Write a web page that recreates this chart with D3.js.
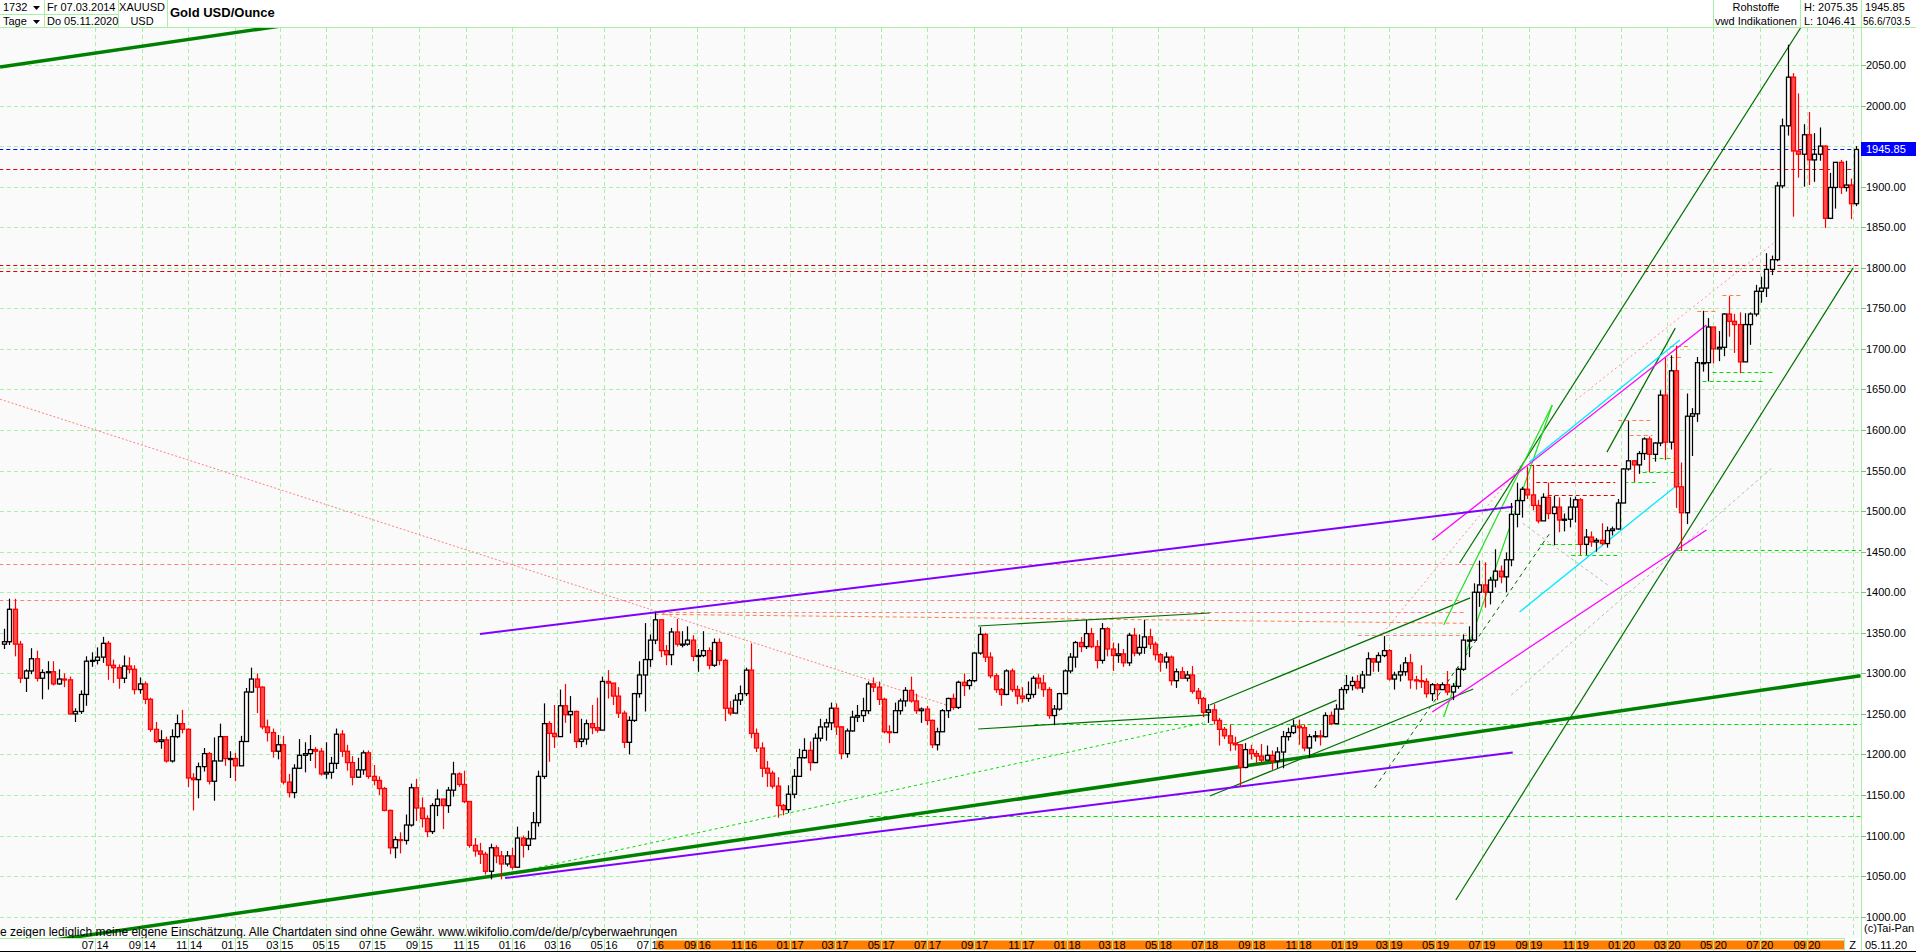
<!DOCTYPE html>
<html><head><meta charset="utf-8">
<script src="https://cdn.jsdelivr.net/npm/d3@7"></script>
<style>html,body{margin:0;padding:0;background:#fff;overflow:hidden}svg{display:block;font-family:"Liberation Sans",Arial,sans-serif}</style>
</head><body><svg id="c" width="1916" height="952"></svg>
<script>
// ---------------- DATA (weekly bars, Friday closes; last bar 05.11.2020) ----------------
const firstWeek = "2014-03-07", lastWeek = "2020-10-30", lastDay = "2020-11-05";
const close2014 = [1339,1379,1336,1294,1303,1318,1294,1301,1302,1287,1293,1292,1250,1253,1274,1315,1316,1320,1337,1310,1307,1294,1309,1305,1280,1287,1268,1231,1216,1218,1192,1222,1238,1231,1171,1169,1185,1201,1167,1192,1222,1195,1195];
const high2014  = [1355,1392,1392,1340,1305,1331,1328,1305,1315,1315,1305,1300,1296,1257,1279,1321,1326,1332,1345,1340,1317,1311,1322,1320,1310,1295,1290,1270,1240,1230,1222,1231,1249,1255,1232,1177,1190,1208,1203,1221,1238,1222,1204];
const low2014   = [1330,1335,1321,1288,1277,1299,1290,1268,1280,1285,1286,1283,1249,1240,1250,1260,1308,1311,1313,1292,1288,1281,1288,1300,1274,1275,1262,1228,1214,1207,1190,1190,1220,1226,1160,1131,1146,1179,1163,1143,1192,1186,1171];
const close2015 = [1186,1216,1277,1293,1283,1234,1227,1204,1212,1166,1153,1183,1199,1201,1206,1204,1176,1178,1189,1225,1204,1190,1172,1181,1202,1173,1168,1158,1131,1085,1095,1094,1113,1159,1134,1121,1105,1137,1145,1137,1156,1176,1163,1142,1088,1081,1077,1056,1085,1075,1065,1075];
const high2015  = [1202,1223,1282,1307,1300,1284,1243,1232,1224,1223,1176,1188,1219,1215,1224,1209,1208,1215,1197,1232,1230,1212,1198,1196,1205,1205,1187,1173,1160,1132,1099,1104,1126,1164,1170,1147,1125,1140,1157,1140,1160,1191,1178,1180,1142,1097,1091,1080,1090,1088,1081,1081];
const low2015   = [1167,1188,1216,1276,1251,1231,1216,1196,1194,1163,1147,1146,1182,1178,1192,1183,1174,1170,1170,1182,1197,1180,1162,1171,1175,1170,1162,1150,1130,1077,1072,1078,1089,1111,1118,1110,1098,1102,1124,1108,1128,1148,1160,1140,1085,1074,1065,1052,1046,1066,1046,1062];
const close2016 = [1061,1097,1088,1096,1116,1173,1238,1226,1222,1260,1249,1253,1216,1219,1238,1233,1230,1290,1288,1272,1251,1215,1242,1275,1298,1317,1341,1366,1328,1323,1351,1336,1336,1341,1321,1322,1328,1310,1338,1316,1257,1251,1267,1275,1304,1226,1208,1183,1177,1161,1137,1132,1151];
const high2016  = [1085,1111,1100,1106,1129,1180,1263,1241,1261,1280,1287,1272,1254,1244,1243,1261,1270,1296,1304,1278,1283,1254,1247,1276,1315,1362,1348,1375,1366,1335,1356,1367,1352,1358,1347,1330,1352,1332,1343,1343,1318,1266,1274,1285,1307,1337,1232,1215,1192,1180,1172,1139,1162];
const low2016   = [1058,1061,1073,1082,1096,1111,1170,1191,1208,1226,1239,1226,1208,1209,1212,1225,1227,1231,1269,1261,1245,1208,1200,1240,1270,1253,1308,1336,1320,1310,1310,1333,1332,1334,1315,1302,1320,1305,1308,1310,1241,1248,1251,1261,1272,1220,1203,1172,1160,1158,1122,1125,1128];
const close2017 = [1173,1196,1205,1190,1220,1234,1239,1257,1234,1201,1229,1246,1248,1254,1287,1283,1268,1228,1227,1254,1266,1279,1266,1254,1256,1242,1212,1228,1254,1269,1258,1289,1285,1291,1325,1348,1320,1297,1280,1274,1303,1280,1272,1269,1274,1294,1288,1280,1248,1256,1275,1303];
const high2017  = [1182,1207,1220,1216,1226,1244,1244,1264,1263,1235,1232,1254,1261,1270,1290,1295,1290,1270,1236,1264,1269,1283,1296,1275,1258,1260,1243,1233,1256,1270,1275,1291,1300,1293,1326,1357,1350,1326,1300,1282,1305,1306,1285,1283,1290,1297,1299,1298,1283,1261,1276,1305];
const low2017   = [1146,1173,1195,1180,1190,1216,1217,1230,1224,1194,1196,1228,1240,1240,1250,1277,1261,1226,1214,1227,1249,1259,1264,1250,1239,1236,1208,1205,1231,1245,1255,1256,1272,1280,1289,1323,1314,1294,1276,1260,1273,1277,1262,1264,1265,1270,1281,1271,1244,1236,1254,1274];
const close2018 = [1320,1338,1333,1349,1333,1316,1355,1330,1322,1324,1313,1347,1325,1332,1345,1336,1323,1314,1320,1291,1302,1294,1298,1278,1269,1252,1255,1242,1231,1223,1214,1212,1184,1206,1201,1198,1193,1199,1192,1203,1222,1227,1235,1233,1208,1222,1223,1222,1248,1238,1256,1280];
const high2018  = [1325,1340,1345,1366,1356,1341,1362,1357,1338,1337,1330,1350,1356,1348,1366,1355,1339,1325,1326,1322,1306,1308,1303,1309,1282,1271,1262,1262,1245,1234,1237,1222,1212,1214,1212,1205,1213,1211,1205,1209,1229,1233,1243,1243,1237,1225,1229,1230,1252,1253,1262,1283];
const low2018   = [1300,1307,1326,1330,1331,1306,1312,1321,1303,1313,1308,1309,1321,1322,1324,1330,1316,1302,1306,1285,1282,1293,1290,1275,1262,1246,1239,1237,1211,1219,1204,1205,1160,1183,1194,1189,1190,1193,1181,1183,1183,1217,1225,1212,1204,1196,1216,1211,1221,1236,1238,1255];
const close2019 = [1285,1290,1282,1298,1318,1314,1322,1328,1293,1298,1302,1313,1292,1291,1290,1275,1286,1280,1286,1277,1284,1305,1341,1341,1400,1409,1400,1415,1426,1419,1440,1496,1513,1527,1520,1507,1488,1517,1497,1505,1489,1490,1505,1514,1459,1468,1462,1464,1460,1476,1478,1510];
const high2019  = [1298,1296,1298,1303,1326,1319,1326,1346,1330,1302,1311,1320,1324,1297,1310,1294,1288,1288,1289,1303,1288,1307,1348,1358,1411,1439,1437,1419,1453,1433,1449,1510,1535,1530,1555,1557,1514,1522,1535,1519,1517,1497,1517,1518,1516,1478,1475,1467,1485,1481,1481,1515];
const low2019   = [1275,1279,1280,1276,1298,1302,1302,1320,1291,1280,1290,1297,1281,1280,1282,1270,1266,1267,1280,1273,1267,1281,1303,1320,1340,1382,1381,1385,1406,1411,1400,1432,1480,1492,1515,1501,1485,1491,1490,1458,1474,1475,1480,1486,1446,1446,1456,1450,1458,1455,1470,1477];
const close2020 = [1552,1562,1557,1571,1589,1570,1584,1643,1585,1673,1530,1498,1617,1620,1683,1683,1727,1700,1702,1743,1734,1730,1684,1730,1743,1771,1775,1798,1810,1901,1975,2035,1944,1940,1964,1933,1940,1950,1861,1899,1930,1899,1902,1879,1945.85];
const high2020  = [1553,1611,1563,1574,1591,1592,1585,1649,1689,1692,1704,1560,1645,1627,1690,1747,1738,1723,1722,1744,1765,1743,1745,1744,1745,1779,1789,1818,1815,1906,1984,2075,2040,2015,1977,1992,1966,1973,1951,1917,1930,1933,1932,1910,1950];
const low2020   = [1515,1550,1536,1546,1563,1548,1561,1580,1563,1576,1504,1451,1484,1568,1610,1672,1660,1682,1685,1691,1715,1695,1670,1684,1705,1740,1757,1764,1791,1808,1898,1963,1863,1911,1900,1902,1906,1932,1849,1860,1873,1891,1894,1860,1876];
const firstOpen = 1336;
const lastPrice = 1945.85;

const priceTicks = [1000,1050,1100,1150,1200,1250,1300,1350,1400,1450,1500,1550,1600,1650,1700,1750,1800,1850,1900,1950,2000,2050];
const monthTicks = ["2014-07-01","2014-09-01","2014-11-01","2015-01-01","2015-03-01","2015-05-01","2015-07-01","2015-09-01","2015-11-01",
"2016-01-01","2016-03-01","2016-05-01","2016-07-01","2016-09-01","2016-11-01","2017-01-01","2017-03-01","2017-05-01","2017-07-01","2017-09-01","2017-11-01",
"2018-01-01","2018-03-01","2018-05-01","2018-07-01","2018-09-01","2018-11-01","2019-01-01","2019-03-01","2019-05-01","2019-07-01","2019-09-01","2019-11-01",
"2020-01-01","2020-03-01","2020-05-01","2020-07-01","2020-09-01","2020-11-01"];

// trend lines: [date, price] endpoints
const thickGreenLow = [["2014-03-02",961.4],["2020-11-11",1297]];
const thickGreenTop = [["2014-03-02",2047.5],["2020-11-11",2383]];
const purpleLow = [["2015-12-23",1047.7],["2019-08-11",1202.4]];
const purpleHigh = [["2015-11-20",1348.6],["2019-08-11",1505.5]];
const redDiagonal = [["2014-03-02",1638],["2017-07-26",1261]];
const limeDiagonal = [["2015-12-21",1051.4],["2018-06-29",1238.8]];
const triangleTop = [["2017-09-06",1358.4],["2018-07-08",1374.4]];
const triangleBottom = [["2017-09-06",1231.4],["2018-07-08",1248.7]];
const channelTop = [["2019-06-02",1436],["2020-08-24",2095.7]];
const channelBottom = [["2019-05-28",1020.6],["2020-11-01",1799.6]];
const magentaTop = [["2019-04-27",1464.5],["2020-04-22",1729.5]];
const magentaBottom = [["2019-04-27",1252.4],["2020-04-22",1476.8]];
const cyanBottom = [["2019-08-20",1375.7],["2020-03-18",1534.7]];
const cyanTop = [["2019-09-02",1560.6],["2020-03-18",1711]];
const rise18Top = [["2018-07-08",1261],["2019-06-16",1393]];
const rise18Bottom = [["2018-07-08",1148.8],["2019-06-20",1280.7]];
const rise18Mid = [["2018-08-07",1211.7],["2018-12-22",1267]];
const rise19Dashed = [["2019-02-10",1158.7],["2019-09-29",1473]];
const rise19Fast = [["2019-05-12",1246.2],["2019-10-02",1630.9]];
const rise19Fast2 = [["2019-05-12",1359.6],["2019-10-02",1630.9]];
const rise20Green = [["2019-12-13",1572.7],["2020-03-12",1725.6]];
const grayRise = [["2019-08-09",1273.3],["2020-07-19",1554.7]];
const grayFall = [["2019-08-24",1485],["2019-12-17",1406.9]];
const pinkRise19 = [["2019-02-21",1349.8],["2019-09-02",1569.2]];
const orangeSloped = [["2016-07-07",1372.8],["2019-06-12",1361.7]];
const pinkRise20 = [["2019-11-02",1637],["2020-07-19",1830]];

// horizontal levels: [price, fromDate, toDate]
const levelsRedFull = [[1922,"2014-03-01","2020-11-12"],[1803.6,"2014-03-01","2020-11-12"],[1796,"2014-03-01","2020-11-12"]];
const levelsSalmon = [[1434.5,"2014-03-01","2019-07-13"],[1391,"2014-03-01","2019-06-02"],[1376,"2016-07-07","2019-06-09"],[1347,"2019-01-19","2019-06-13"]];
const levelsRedShort = [[1557,"2019-09-02","2019-12-28"],[1535.6,"2019-09-11","2019-12-24"],[1520,"2019-09-26","2019-12-24"]];
const levelsOrangeShort = [[1612,"2019-12-28","2020-02-11"],[1594,"2020-01-12","2020-02-11"],[1767,"2020-05-13","2020-06-09"],[1746.7,"2020-04-10","2020-05-06"],[1703.6,"2020-03-05","2020-03-29"],[1689.7,"2020-03-05","2020-03-22"]];
const levelsLime = [[1124,"2017-04-16","2020-11-12"],[1238,"2017-11-19","2020-11-12"],[1452,"2020-03-14","2020-11-12"],
 [1565,"2020-02-11","2020-03-14"],[1548,"2020-01-29","2020-03-14"],[1536,"2020-01-05","2020-02-15"],[1459,"2019-09-16","2019-11-05"],[1446,"2019-10-27","2019-12-28"],
 [1671,"2020-04-30","2020-07-18"],[1661,"2020-04-17","2020-07-08"]];

// ---------------- LAYOUT ----------------
const W = 1916, H = 952;
const plotL = 0, plotR = 1861, plotT = 28, plotB = 938;
const parse = d3.timeParse("%Y-%m-%d");
const x = d3.scaleTime().domain([parse("2014-03-07"), parse("2014-07-01"), parse("2020-11-05")]).range([4, 95, 1856]);
const y = d3.scaleLinear().domain([1000, 2050]).range([916.7, 65]);

const weekDates = d3.timeFriday.range(parse(firstWeek), d3.timeDay.offset(parse(lastWeek), 1)).concat([parse(lastDay)]);
const closes = [].concat(close2014, close2015, close2016, close2017, close2018, close2019, close2020);
const highs = [].concat(high2014, high2015, high2016, high2017, high2018, high2019, high2020);
const lows = [].concat(low2014, low2015, low2016, low2017, low2018, low2019, low2020);

const svg = d3.select("#c");
const gridColor = "#a8f0a8";

svg.append("rect").attr("x",0).attr("y",0).attr("width",W).attr("height",H).attr("fill","#fff");
svg.append("rect").attr("x",plotL).attr("y",plotT).attr("width",plotR-plotL).attr("height",plotB-plotT).attr("fill","#fafafa");
svg.append("defs").append("clipPath").attr("id","clip").append("rect")
  .attr("x",plotL).attr("y",plotT).attr("width",plotR-plotL).attr("height",plotB-plotT);

const plot = svg.append("g").attr("clip-path","url(#clip)");

// grid
plot.selectAll("line.hg").data(priceTicks).join("line")
  .attr("x1",plotL).attr("x2",plotR).attr("y1",d=>Math.round(y(d))+0.5).attr("y2",d=>Math.round(y(d))+0.5)
  .attr("stroke",gridColor).attr("stroke-dasharray","4,3");
plot.selectAll("line.vg").data(monthTicks).join("line")
  .attr("x1",d=>Math.round(x(parse(d)))+0.5).attr("x2",d=>Math.round(x(parse(d)))+0.5).attr("y1",plotT).attr("y2",plotB)
  .attr("stroke",gridColor).attr("stroke-dasharray","4,3");

function seg(pts, color, width, dash){
  const l = plot.append("line")
    .attr("x1",x(parse(pts[0][0]))).attr("y1",y(pts[0][1]))
    .attr("x2",x(parse(pts[1][0]))).attr("y2",y(pts[1][1]))
    .attr("stroke",color).attr("stroke-width",width);
  if(dash) l.attr("stroke-dasharray",dash);
}
function levels(arr, color, width, dash){
  arr.forEach(a=>{
    plot.append("line").attr("x1",x(parse(a[1]))).attr("x2",x(parse(a[2])))
      .attr("y1",Math.round(y(a[0]))+0.5).attr("y2",Math.round(y(a[0]))+0.5)
      .attr("stroke",color).attr("stroke-width",width).attr("stroke-dasharray",dash);
  });
}

levels(levelsSalmon, "#ff8080", 1, "4,3");
levels(levelsLime, "#00e000", 1, "4,3");
levels(levelsRedShort, "#e00000", 1, "4,3");
levels(levelsOrangeShort, "#ff8040", 1, "4,3");
levels(levelsRedFull, "#e00000", 1, "4,3");
levels([[lastPrice,"2014-03-01","2020-11-12"]], "#0000ff", 1, "4,3");

seg(redDiagonal, "#ff8080", 1, "2,2");
seg(pinkRise20, "#ff9090", 1, "2,3");
seg(pinkRise19, "#ff9090", 1, "2,3");
seg(grayRise, "#b8b8b8", 1, "3,3");
seg(grayFall, "#b8b8b8", 1, "3,3");
seg(orangeSloped, "#ff8040", 1, "4,3");
seg(limeDiagonal, "#00e000", 1, "3,3");
seg(rise19Dashed, "#006400", 1, "4,4");
seg(triangleTop, "#007000", 1.2);
seg(triangleBottom, "#007000", 1.2);
seg(rise18Top, "#007000", 1.2);
seg(rise18Bottom, "#007000", 1.2);
seg(rise18Mid, "#007000", 1.2);
seg(channelTop, "#007000", 1.2);
seg(channelBottom, "#007000", 1.2);
seg(rise20Green, "#007000", 1.2);
seg(rise19Fast, "#20e020", 1.2);
seg(rise19Fast2, "#20e020", 1.2);
seg(magentaTop, "#ff00ff", 1.3);
seg(magentaBottom, "#ff00ff", 1.3);
seg(cyanBottom, "#00e8ff", 1.3);
seg(cyanTop, "#00e8ff", 1.3);
seg(purpleLow, "#8000ff", 2);
seg(purpleHigh, "#8000ff", 2);
seg(thickGreenLow, "#008000", 3.5);
seg(thickGreenTop, "#008000", 3.5);

// candles
const candles = weekDates.map((d,i)=>({date:d, o: i===0?firstOpen:closes[i-1], c:closes[i], h:highs[i], l:lows[i]}));
const cw = 4;
const cg = plot.append("g");
cg.selectAll("line.w").data(candles).join("line")
  .attr("x1",d=>Math.round(x(d.date))+0.5).attr("x2",d=>Math.round(x(d.date))+0.5)
  .attr("y1",d=>y(d.h)).attr("y2",d=>y(d.l))
  .attr("stroke",d=>d.c>=d.o?"#000":"#f00").attr("stroke-width",1.2);
cg.selectAll("rect").data(candles).join("rect")
  .attr("x",d=>Math.round(x(d.date))+0.5-cw/2).attr("width",cw)
  .attr("y",d=>y(Math.max(d.o,d.c))).attr("height",d=>Math.max(1,Math.abs(y(d.o)-y(d.c))))
  .attr("fill",d=>d.c>=d.o?"#fff":"#ff5050").attr("stroke",d=>d.c>=d.o?"#000":"#f00").attr("stroke-width",1.3);

// disclaimer text inside plot
svg.append("text").attr("x",0).attr("y",936).attr("font-size",12).attr("fill","#000")
  .text("e zeigen lediglich meine eigene Einschätzung. Alle Chartdaten sind ohne Gewähr.  www.wikifolio.com/de/de/p/cyberwaehrungen");

// ---------------- RIGHT AXIS ----------------
svg.append("line").attr("x1",plotR+0.5).attr("x2",plotR+0.5).attr("y1",0).attr("y2",H).attr("stroke",gridColor);
const ax = svg.append("g");
ax.selectAll("line").data(priceTicks).join("line")
  .attr("x1",plotR).attr("x2",plotR+5).attr("y1",d=>Math.round(y(d))+0.5).attr("y2",d=>Math.round(y(d))+0.5).attr("stroke","#80c080");
ax.selectAll("text").data(priceTicks).join("text")
  .attr("x",plotR+5).attr("y",d=>y(d)+4).attr("font-size",11).attr("fill","#000")
  .text(d=>d3.format(".2f")(d));
svg.append("rect").attr("x",plotR).attr("y",Math.round(y(lastPrice))-7).attr("width",W-plotR).attr("height",14).attr("fill","#0000ff");
svg.append("text").attr("x",plotR+5).attr("y",y(lastPrice)+4).attr("font-size",11).attr("fill","#fff").text(d3.format(".2f")(lastPrice));
svg.append("text").attr("x",plotR+3).attr("y",932).attr("font-size",11).attr("fill","#000").text("(c)Tai-Pan");

// ---------------- BOTTOM AXIS ----------------
svg.append("line").attr("x1",0).attr("x2",W).attr("y1",plotB+0.5).attr("y2",plotB+0.5).attr("stroke",gridColor);
svg.append("rect").attr("x",x(parse("2016-07-09"))).attr("y",940.5).attr("width",1844-x(parse("2016-07-09"))).attr("height",9).attr("fill","#ff8000");
const bt = svg.append("g");
const mf = d3.timeFormat("%m"), yf = d3.timeFormat("%y");
const labTicks = monthTicks.slice(0, monthTicks.length-1);
bt.selectAll("line").data(monthTicks).join("line")
  .attr("x1",d=>Math.round(x(parse(d)))+0.5).attr("x2",d=>Math.round(x(parse(d)))+0.5).attr("y1",plotB).attr("y2",H-1).attr("stroke",gridColor);
bt.selectAll("text.m").data(labTicks).join("text").attr("class","m")
  .attr("x",d=>x(parse(d))-1).attr("y",949).attr("text-anchor","end").attr("font-size",11).text(d=>mf(parse(d)));
bt.selectAll("text.y").data(labTicks).join("text").attr("class","y")
  .attr("x",d=>x(parse(d))+1.5).attr("y",949).attr("font-size",11).text(d=>yf(parse(d)));
svg.append("rect").attr("x",1844).attr("y",plotB).attr("width",W-1844).attr("height",H-plotB-1).attr("fill","#fff");
svg.append("line").attr("x1",1844.5).attr("x2",1844.5).attr("y1",plotB).attr("y2",H).attr("stroke",gridColor);
svg.append("line").attr("x1",plotR+0.5).attr("x2",plotR+0.5).attr("y1",plotB).attr("y2",H).attr("stroke",gridColor);
svg.append("text").attr("x",1852.5).attr("y",949).attr("text-anchor","middle").attr("font-size",11).text("Z");
svg.append("text").attr("x",plotR+4).attr("y",949).attr("font-size",11).text("05.11.20");
svg.append("line").attr("x1",0).attr("x2",W).attr("y1",H-0.5).attr("y2",H-0.5).attr("stroke","#000");

// ---------------- HEADER ----------------
svg.append("rect").attr("x",0).attr("y",0).attr("width",W).attr("height",plotT).attr("fill","#fff");
svg.append("line").attr("x1",0).attr("x2",W).attr("y1",plotT-0.5).attr("y2",plotT-0.5).attr("stroke",gridColor);
[44,118,167,1713,1800,1861].forEach(v=>svg.append("line").attr("x1",v+0.5).attr("x2",v+0.5).attr("y1",0).attr("y2",plotT).attr("stroke",gridColor));
svg.append("line").attr("x1",0).attr("x2",118).attr("y1",14.5).attr("y2",14.5).attr("stroke",gridColor);
const hdr = [
 ["1732",3,11,"start",11],["Tage",3,25,"start",11],["Fr 07.03.2014",47,11,"start",11],["Do 05.11.2020",47,25,"start",11],
 ["XAUUSD",142,11,"middle",11],["USD",142,25,"middle",11],
 ["Rohstoffe",1756,11,"middle",11],["vwd Indikationen",1756,25,"middle",11],
 ["H: 2075.35",1804,11,"start",11],["L: 1046.41",1804,25,"start",11],["1945.85",1865,11,"start",11],["56.6/703.5",1863,25,"start",10]];
hdr.forEach(h=>svg.append("text").attr("x",h[1]).attr("y",h[2]).attr("text-anchor",h[3]).attr("font-size",h[4]).attr("fill","#000").text(h[0]));
svg.append("path").attr("d","M33,6 L40,6 L36.5,10 Z").attr("fill","#000");
svg.append("path").attr("d","M33,20 L40,20 L36.5,24 Z").attr("fill","#000");
svg.append("text").attr("x",170).attr("y",17).attr("font-size",13).attr("font-weight","bold").text("Gold USD/Ounce");
</script></body></html>
